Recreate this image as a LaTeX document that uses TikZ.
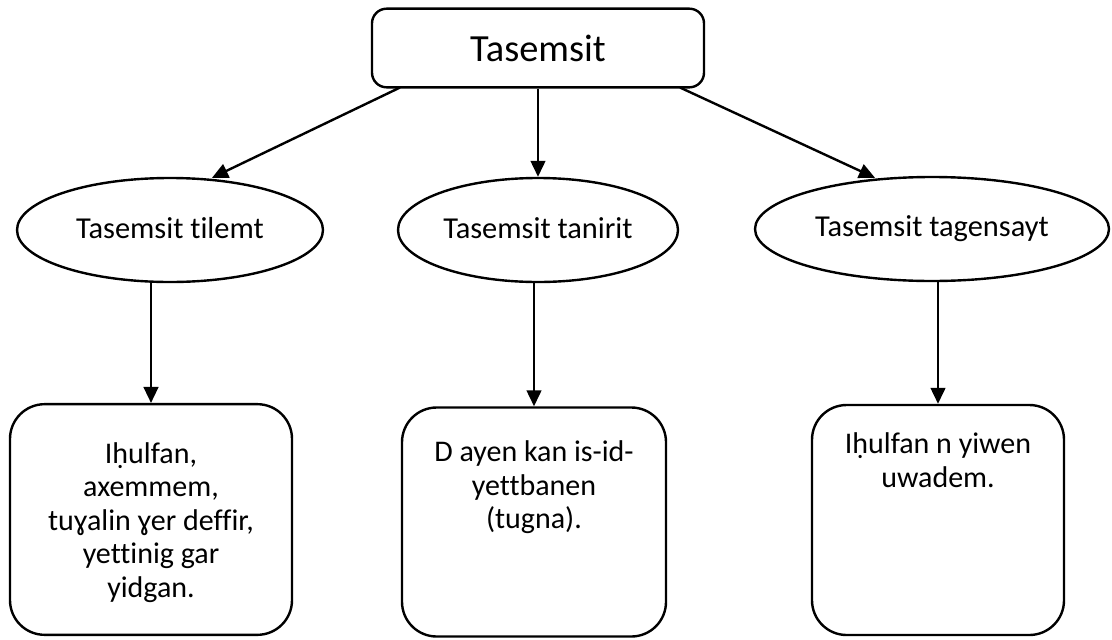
\documentclass[tikz,border=0pt]{standalone}
\usepackage{fontspec}
\setmainfont{Carlito}[Ligatures={NoCommon}]
\usetikzlibrary{shapes.geometric,arrows.meta,calc}
\tikzset{
  line/.style={line width=1.8pt},
  arr/.style={line, -{Triangle[length=12pt,width=11pt]}},
  topbox/.style={draw, line, rounded corners=11pt, minimum width=249pt, minimum height=59pt, inner sep=0pt, font=\fontsize{28.8}{33}\selectfont},
  oval/.style={draw, line, ellipse, inner sep=0pt, minimum height=78pt, font=\fontsize{22.8}{26}\selectfont},
  leafbox/.style={draw, line, rounded corners=26pt, inner sep=0pt},
  leaftext/.style={anchor=north, align=center, inner sep=0pt, font=\fontsize{22.5}{25.2}\selectfont}
}
\begin{document}
\begin{tikzpicture}[x=0.75pt,y=-0.75pt]
\useasboundingbox (0,0) rectangle (1112,639);
\node[topbox] (top) at (538,48) {Tasemsit};
\node[oval, minimum width=229.5pt] (e1) at (170,230) {\raisebox{3pt}{Tasemsit tilemt}};
\node[oval, minimum width=210pt] (e2) at (538,230) {\raisebox{3pt}{Tasemsit tanirit}};
\node[oval, minimum width=265.5pt] (e3) at (932,229) {Tasemsit tagensayt};
\node[leafbox, minimum width=211.5pt, minimum height=173pt] (b1) at (151,519.5) {};
\node[leafbox, minimum width=198pt, minimum height=171.75pt] (b2) at (534,522) {};
\node[leafbox, minimum width=189pt, minimum height=172.5pt] (b3) at (938,520) {};
\node[leaftext] (t1) at ($(b1.north)+(0,39)$) {Iḥulfan,\\axemmem,\\tuɣalin ɣer deffir,\\yettinig gar\\yidgan.};
\node[leaftext] (t2) at ($(b2.north)+(0,34)$) {D ayen kan is-id-\\yettbanen\\(tugna).};
\node[leaftext] (t3) at ($(b3.north)+(0,29)$) {Iḥulfan n yiwen\\uwadem.};
\draw[arr] ($(top.south)+(-138,-1)$) -- ($(e1.north)+(42,1)$);
\draw[arr] (top.south) -- (e2.north);
\draw[arr] ($(top.south)+(142,-1)$) -- ($(e3.north)+(-57,2)$);
\draw[arr] (b1.north |- e1.south) -- (b1.north);
\draw[arr] (b2.north |- e2.south) -- (b2.north);
\draw[arr] (b3.north |- e3.south) -- (b3.north);
\end{tikzpicture}
\end{document}
